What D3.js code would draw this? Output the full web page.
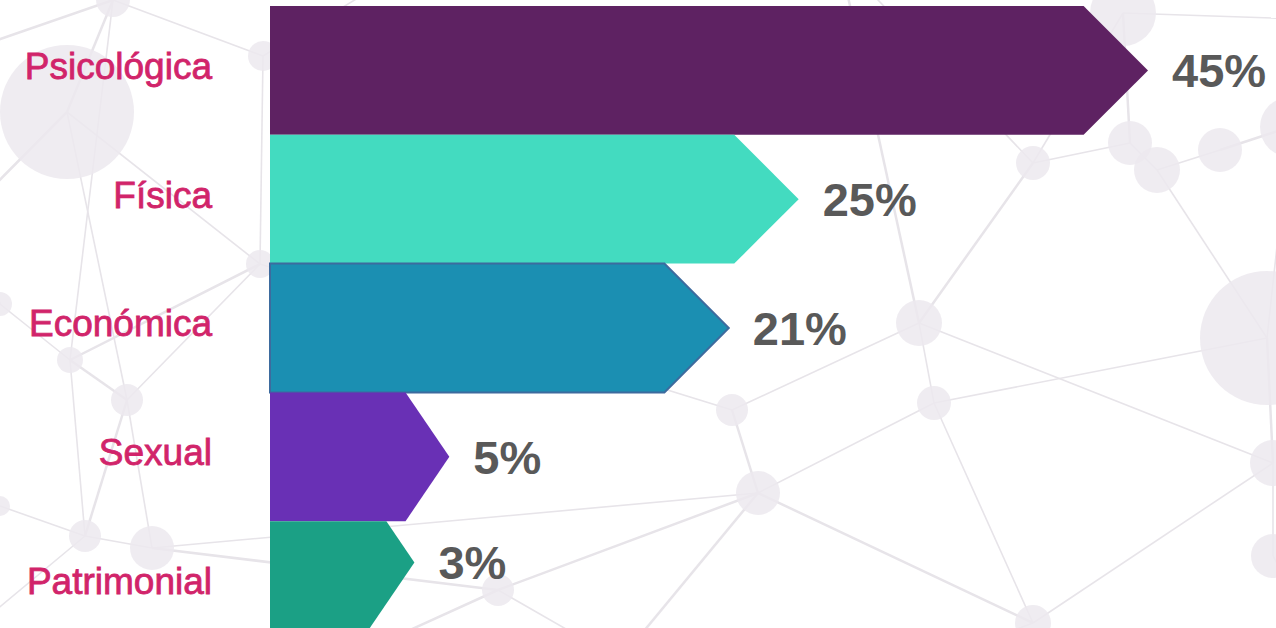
<!DOCTYPE html>
<html>
<head>
<meta charset="utf-8">
<script src="https://cdn.jsdelivr.net/npm/d3@7"></script>
<style>
  html, body { margin: 0; padding: 0; background: #ffffff; overflow: hidden; }
  svg { display: block; font-family: "Liberation Sans", Arial, sans-serif; }
</style>
</head>
<body>
<svg id="chart" width="1276" height="628"></svg>
<script>
// chart data
const categories = ["Psicológica", "Física", "Económica", "Sexual", "Patrimonial"];
const values = [45, 25, 21, 5, 3];

// bar colours, one per category
const barColors = ["#5e2262", "#43dbc0", "#1b8fb2", "#6930b5", "#1ba085"];

// decorative network in the background: [x, y, r]
const bgNodes = [
  [113, 0, 17], [67, 112, 67], [263, 56, 15], [260, 264, 14], [0, 304, 12],
  [70, 360, 13], [127, 400, 16], [0, 506, 10], [85, 536, 16], [152, 548, 22],
  [1123, 13, 33], [1033, 163, 17], [1130, 143, 22], [1157, 170, 23], [1220, 150, 22],
  [1290, 127, 30], [919, 323, 23], [934, 403, 17], [1267, 338, 67], [1273, 463, 23],
  [1273, 556, 22], [1033, 623, 18], [758, 493, 22], [732, 410, 16], [498, 590, 16],
  [620, 660, 0], [-60, 60, 0], [420, -40, 0], [840, -40, 0], [1330, 20, 0],
  [-40, 640, 0], [300, 680, 0], [880, 680, 0], [1320, 640, 0], [-40, 220, 0]
];
const bgLinks = [
  [0, 1], [0, 2], [0, 5], [0, 26], [1, 3], [1, 6], [1, 34], [2, 3], [2, 27], [3, 5],
  [3, 6], [4, 5], [5, 6], [5, 8], [6, 9], [6, 8], [7, 8], [8, 9], [9, 24], [8, 30],
  [3, 23], [23, 22], [22, 17], [16, 17], [16, 11], [16, 19], [17, 18], [22, 21],
  [21, 19], [19, 20], [19, 18], [18, 13], [13, 12], [12, 10], [12, 11], [13, 14],
  [14, 15], [11, 10], [17, 21], [22, 24], [23, 16], [9, 22], [16, 28], [10, 29],
  [24, 25], [24, 31], [21, 32], [20, 33], [22, 25], [18, 15], [11, 28], [4, 34]
];

const svg = d3.select("#chart");

// BACKGROUND NETWORK
const bg = svg.append("g").attr("class", "background");
bg.selectAll("line")
  .data(bgLinks)
  .enter()
  .append("line")
  .attr("x1", d => bgNodes[d[0]][0])
  .attr("y1", d => bgNodes[d[0]][1])
  .attr("x2", d => bgNodes[d[1]][0])
  .attr("y2", d => bgNodes[d[1]][1])
  .attr("stroke", "#e7e4e9")
  .attr("stroke-width", (d, i) => i % 3 === 0 ? 2.5 : 1.6);

bg.selectAll("circle")
  .data(bgNodes.filter(d => d[2] > 0))
  .enter()
  .append("circle")
  .attr("cx", d => d[0])
  .attr("cy", d => d[1])
  .attr("r", d => d[2])
  .attr("fill", "#ece9ef")
  .attr("opacity", 0.85);

// SCALES
const barLeft = 270;
const y = d3.scaleBand()
  .domain(categories)
  .range([6, 650])
  .padding(0);

// tip of each arrow
const x = d3.scaleLinear()
  .domain([0, d3.max(values)])
  .range([362, 1148]);

const rows = categories.map((c, i) => {
  const top = y(c);
  const bh = y.bandwidth();
  const tip = x(values[i]);
  // last arrow is cut by the bottom edge; its point sits higher
  const tipDy = i === categories.length - 1 ? bh * 0.32 : bh / 2;
  // long arrows get a 45 degree head, short ones a narrower head
  const slope = tip - barLeft > 300 ? 1 : 0.68;
  const head = slope * tipDy;
  const bottom = top + bh;
  const tipY = top + tipDy;
  const points = [
    [barLeft, top],
    [tip - head, top],
    [tip, tipY],
    [tip - slope * (bottom - tipY), bottom],
    [barLeft, bottom]
  ];
  return { cat: c, value: values[i], color: barColors[i], points, tip, tipY, mid: top + bh / 2 };
});

// BARS
const bars = svg.append("g").attr("class", "bars");
bars.selectAll("path")
  .data(rows)
  .enter()
  .append("path")
  .attr("d", d => d3.line()(d.points) + "Z")
  .attr("fill", d => d.color)
  .attr("stroke", (d, i) => i === 2 ? "#3d6b9e" : "none")
  .attr("stroke-width", 2);

// VALUE LABELS
svg.append("g")
  .selectAll("text")
  .data(rows)
  .enter()
  .append("text")
  .attr("x", d => d.tip + 24)
  .attr("y", d => d.tipY)
  .attr("dy", "0.36em")
  .attr("fill", "#595959")
  .style("font-size", "47px")
  .style("font-weight", "bold")
  .text(d => d.value + "%");

// CATEGORY LABELS
svg.append("g")
  .selectAll("text")
  .data(rows)
  .enter()
  .append("text")
  .attr("x", 212)
  .attr("y", d => d.mid - 5)
  .attr("dy", "0.36em")
  .attr("text-anchor", "end")
  .attr("fill", "#d1246a")
  .attr("stroke", "#d1246a")
  .attr("stroke-width", 0.8)
  .style("font-size", "37px")
  .text(d => d.cat);
</script>
</body>
</html>
